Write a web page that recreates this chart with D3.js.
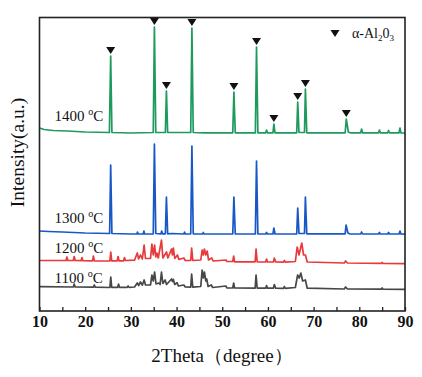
<!DOCTYPE html>
<html>
<head>
<meta charset="utf-8">
<script src="https://cdn.jsdelivr.net/npm/d3@7"></script>
<style>
  html, body { margin: 0; padding: 0; background: #fff; }
  svg { display: block; }
  text { font-family: "Liberation Serif", "Times New Roman", serif; fill: #111; }
</style>
</head>
<body>
<svg id="chart" width="422" height="377"></svg>
<script>
// ---- data (2θ in degrees, intensity in arbitrary units incl. vertical offset) ----
const seriesNames = ["1100", "1200", "1300", "1400"];
const seriesColors = ["#474747", "#e8393b", "#1858c6", "#1d9a5c"];
const labelLevels = [285, 585, 880, 1900];

const data1100 = [[10,243],[17.4,240],[17.6,270],[17.8,240],[21.8,238],[22,260],[22.2,238],[25.4,235],[25.6,340],[25.8,236],[27.1,236],[27.3,270],[27.5,236],[29.2,236],[29.4,250],[29.6,236],[30.8,240],[31.4,280],[31.7,255],[32.1,290],[32.5,258],[32.9,310],[33.2,260],[34.3,262],[34.6,360],[34.9,300],[35.2,390],[35.5,270],[36.1,280],[36.4,265],[36.7,390],[37.0,275],[37.5,310],[37.8,265],[38.9,320],[39.1,295],[39.3,315],[39.6,265],[40.1,283],[40.4,250],[41.6,260],[41.9,240],[43.1,238],[43.3,370],[43.55,238],[45.3,245],[45.6,410],[45.85,330],[46.1,390],[46.4,300],[46.6,320],[46.9,245],[47.6,260],[47.9,235],[50.8,250],[51,232],[52.3,230],[52.5,280],[52.7,230],[57.2,228],[57.4,360],[57.65,228],[59.5,228],[59.7,255],[59.9,228],[61.2,228],[61.4,265],[61.7,228],[63.4,226],[63.6,245],[63.8,226],[66.0,235],[66.5,360],[66.85,330],[67.2,380],[67.6,300],[68.2,310],[68.6,228],[76.7,220],[77,240],[77.4,220],[84.8,218],[85,230],[85.2,218],[90,216]];

const data1200 = [[10,505],[15.8,505],[16,540],[16.2,505],[17.4,505],[17.6,545],[17.8,505],[19.1,503],[19.3,535],[19.5,503],[21.6,502],[21.8,550],[22,502],[25.4,500],[25.6,590],[25.8,502],[27,502],[27.2,545],[27.4,502],[28.4,502],[28.6,535],[28.8,505],[30.8,508],[31.4,580],[31.7,520],[32.1,560],[32.5,520],[32.9,660],[33.2,525],[34.3,525],[34.6,670],[34.9,560],[35.2,660],[35.45,540],[35.7,580],[36.0,530],[36.7,710],[37.0,530],[37.8,590],[38.1,530],[38.9,620],[39.1,560],[39.3,630],[39.6,525],[40.2,560],[40.5,515],[41.6,530],[41.9,505],[43.1,505],[43.3,630],[43.55,505],[45.3,510],[45.6,610],[45.85,560],[46.1,620],[46.4,560],[46.7,600],[47.0,510],[47.7,530],[48,500],[50.8,510],[51,495],[52.3,495],[52.5,550],[52.7,492],[57.2,492],[57.4,620],[57.65,492],[59.5,490],[59.7,520],[59.9,490],[61.2,490],[61.4,530],[61.7,490],[63.4,488],[63.6,505],[63.8,488],[66,495],[66.4,640],[66.8,560],[67.4,680],[67.8,560],[68.2,560],[68.6,490],[76.7,480],[77,500],[77.4,480],[84.8,476],[85,485],[85.2,476],[90,474]];

const data1300 = [[10,800],[12,795],[15,790],[20,780],[25.35,775],[25.58,1460],[25.85,775],[30,770],[31.3,770],[31.45,790],[31.6,770],[32.7,770],[32.85,800],[33,770],[34.9,772],[35.15,1670],[35.45,775],[36.6,772],[36.75,800],[36.95,772],[37.55,772],[37.78,1140],[38.05,772],[39,775],[41.6,770],[41.75,790],[41.9,770],[43.1,772],[43.36,1650],[43.65,772],[45.7,770],[45.85,785],[46,770],[52.3,770],[52.55,1140],[52.85,770],[57.25,770],[57.5,1500],[57.8,770],[59.5,770],[59.7,785],[59.9,770],[61.1,770],[61.3,830],[61.55,770],[66.3,770],[66.52,1030],[66.8,775],[68.0,775],[68.2,1140],[68.5,772],[76.9,772],[77.1,860],[77.5,780],[78,770],[80.3,770],[80.5,790],[80.7,770],[84.2,770],[84.4,785],[84.6,770],[86.2,770],[86.4,785],[86.6,770],[88.7,770],[88.9,800],[89.1,770],[90,768]];

const data1400 = [[10,1830],[11,1815],[13,1805],[16,1800],[20,1790],[25.3,1785],[25.58,2550],[25.85,1785],[30,1780],[34.9,1785],[35.15,2840],[35.45,1785],[37.55,1785],[37.78,2200],[38.05,1785],[43.1,1785],[43.36,2830],[43.65,1785],[46.2,1782],[52.3,1782],[52.55,2190],[52.85,1782],[57.25,1782],[57.5,2640],[57.8,1782],[59.5,1782],[59.7,1810],[59.9,1782],[61.1,1782],[61.3,1870],[61.55,1782],[66.3,1782],[66.52,2090],[66.8,1785],[68.0,1785],[68.2,2220],[68.5,1782],[76.9,1782],[77.15,1920],[77.6,1790],[78,1782],[80.3,1782],[80.5,1820],[80.7,1782],[84.2,1782],[84.4,1810],[84.6,1782],[86.2,1782],[86.4,1805],[86.6,1782],[88.7,1782],[88.9,1830],[89.1,1782],[90,1780]];

const seriesData = [data1100, data1200, data1300, data1400];

// α-Al2O3 marker positions (2θ) and the peak intensity they sit on
const markerTheta = [25.58, 35.15, 37.78, 43.36, 52.55, 57.5, 61.3, 66.52, 68.2, 77.15];
const markerLevel = [2550, 2840, 2200, 2830, 2190, 2640, 1870, 2090, 2220, 1920];

const xTicks = [10,15,20,25,30,35,40,45,50,55,60,65,70,75,80,85,90];
const xTickLabels = ["10","20","30","40","50","60","70","80","90"];
const xTitle = "2Theta（degree）";
const yTitle = "Intensity(a.u.)";

// ---- layout ----
const svg = d3.select("#chart");
const L = 39.5, R = 405, T = 17.5, B = 311;
const x = d3.scaleLinear().domain([10, 90]).range([L, R]);
const y = d3.scaleLinear().domain([0, 2935]).range([B, T]);

svg.append("rect").attr("width", 422).attr("height", 377).attr("fill", "#fff");

const line = d3.line().x(d => x(d[0])).y(d => y(d[1]));

seriesData.forEach((s, i) => {
  svg.append("path")
    .datum(s)
    .attr("d", line)
    .attr("fill", "none")
    .attr("stroke", seriesColors[i])
    .attr("stroke-width", 1.7)
    .attr("stroke-linejoin", "round");
});

// series labels
seriesNames.forEach((n, i) => {
  const t = svg.append("text")
    .attr("x", x(13.3))
    .attr("y", y(labelLevels[i]))
    .attr("font-size", 15);
  t.append("tspan").text(n + " ");
  t.append("tspan").attr("font-size", 10).attr("dy", -6).text("o");
  t.append("tspan").attr("dy", 6).text("C");
});

// triangle markers
const tri = "M-4.5,-7L4.5,-7L0,0Z";
svg.selectAll("path.mk")
  .data(markerTheta)
  .join("path")
  .attr("class", "mk")
  .attr("d", tri)
  .attr("fill", "#111")
  .attr("transform", (d, i) => `translate(${x(d)},${y(markerLevel[i]) - 2})`);

// frame
svg.append("rect")
  .attr("x", L).attr("y", T).attr("width", R - L).attr("height", B - T)
  .attr("fill", "none").attr("stroke", "#222").attr("stroke-width", 1.6);

// x axis
const xAxis = d3.axisBottom(x)
  .tickValues(xTicks)
  .tickSizeInner(-4)
  .tickSizeOuter(0)
  .tickPadding(5)
  .tickFormat(d => (xTickLabels.includes(String(d)) ? String(d) : ""));
const gx = svg.append("g").attr("transform", `translate(0,${B})`).call(xAxis);
gx.select(".domain").remove();
gx.selectAll(".tick line").attr("stroke", "#222").attr("stroke-width", 1.3);
gx.selectAll(".tick text")
  .attr("font-size", 16).attr("font-weight", "bold")
  .attr("font-family", "'Liberation Serif', 'Times New Roman', serif")
  .attr("fill", "#111");

// axis titles
svg.append("text")
  .attr("x", 222).attr("y", 362)
  .attr("text-anchor", "middle")
  .attr("font-size", 19)
  .text(xTitle);

svg.append("text")
  .attr("transform", "translate(23.5,152.5) rotate(-90)")
  .attr("text-anchor", "middle")
  .attr("font-size", 19.5)
  .text(yTitle);

// legend
svg.append("path").attr("d", tri).attr("fill", "#111")
  .attr("transform", `translate(335,37)`);
const lg = svg.append("text").attr("x", 352).attr("y", 37.5).attr("font-size", 14);
lg.append("tspan").text("α-Al");
lg.append("tspan").attr("font-size", 9).attr("dy", 3).text("2");
lg.append("tspan").attr("dy", -3).text("0");
lg.append("tspan").attr("font-size", 9).attr("dy", 3).text("3");
</script>
</body>
</html>
